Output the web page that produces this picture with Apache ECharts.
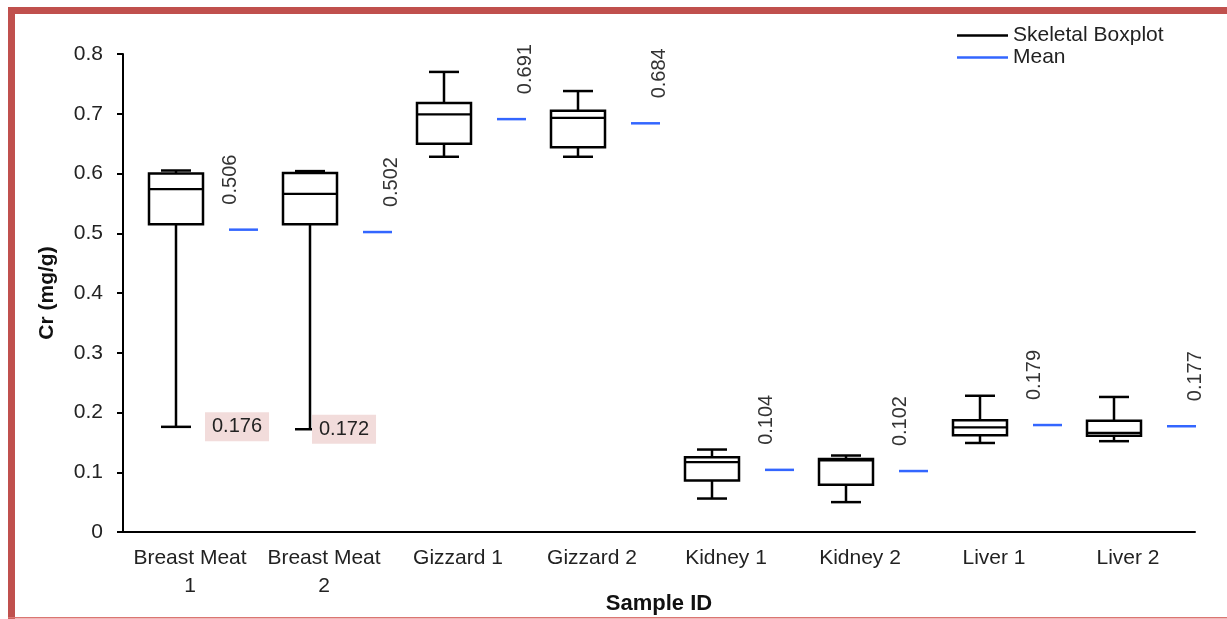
<!DOCTYPE html>
<html>
<head>
<meta charset="utf-8">
<script src="https://cdn.jsdelivr.net/npm/echarts@6/dist/echarts.min.js"></script>
<style>
  html, body { margin: 0; padding: 0; background: #fff; }
  #chart { width: 1227px; height: 619px; }
</style>
</head>
<body>
<div id="chart"></div>
<script>
// Cr content (mg/g) per sample: five-number summaries and means
const categories = ['Breast Meat 1', 'Breast Meat 2', 'Gizzard 1', 'Gizzard 2',
                    'Kidney 1', 'Kidney 2', 'Liver 1', 'Liver 2'];
const minValues    = [0.176, 0.172, 0.628, 0.628, 0.056, 0.050, 0.149, 0.152];
const q1Values     = [0.515, 0.515, 0.650, 0.644, 0.086, 0.079, 0.162, 0.161];
const medianValues = [0.574, 0.566, 0.699, 0.693, 0.117, 0.120, 0.175, 0.166];
const q3Values     = [0.600, 0.601, 0.718, 0.705, 0.125, 0.122, 0.187, 0.186];
const maxValues    = [0.605, 0.604, 0.770, 0.738, 0.138, 0.128, 0.228, 0.226];
const meanValues   = [0.506, 0.502, 0.691, 0.684, 0.104, 0.102, 0.179, 0.177];
const yTicks       = [0, 0.1, 0.2, 0.3, 0.4, 0.5, 0.6, 0.7, 0.8];
// samples whose minimum is annotated
const labelledMinIdx = [0, 1];

// layout (pixels relative to category centre)
const BOX_SHIFT = -14, BOX_HALF = 27, CAP_HALF = 15;
const MEAN_FROM = 39, MEAN_TO = 68;
const meanLabelSide = [-1, 1, 1, 1, -1, -1, -1, 1];
const minLabelShift = [15, -12];

const FONT = '"Liberation Sans", Arial, sans-serif';
const BLUE = '#3366ff';
const FRAME = '#c0504d';

const boxData = categories.map((c, i) =>
  [i, minValues[i], q1Values[i], medianValues[i], q3Values[i], maxValues[i]]);
const meanData = categories.map((c, i) => [i, meanValues[i]]);
const minLabelData = labelledMinIdx.map(i => [i, minValues[i]]);

const chart = echarts.init(document.getElementById('chart'), null, { renderer: 'canvas' });

function line(x1, y1, x2, y2, color, w) {
  return { type: 'line', shape: { x1, y1, x2, y2 }, style: { stroke: color, lineWidth: w } };
}

chart.setOption({
  animation: false,
  backgroundColor: '#fff',
  textStyle: { fontFamily: FONT },
  grid: { left: 123, right: 32, top: 54, bottom: 87, containLabel: false, outerBoundsMode: 'none' },
  legend: {
    orient: 'vertical',
    left: 952, top: 20,
    itemGap: 1,
    itemWidth: 51, itemHeight: 2.5,
    icon: 'rect',
    selectedMode: false,
    textStyle: { fontSize: 21, color: '#222', fontFamily: FONT },
    data: [
      { name: 'Skeletal Boxplot', itemStyle: { color: '#000' } },
      { name: 'Mean', itemStyle: { color: BLUE } }
    ]
  },
  xAxis: {
    type: 'category',
    data: categories,
    name: 'Sample ID',
    nameLocation: 'middle',
    nameGap: 72,
    nameMoveOverlap: false,
    nameTextStyle: {
      fontSize: 22, fontWeight: 'bold', color: '#111', fontFamily: FONT,
      verticalAlign: 'middle'
    },
    axisLine: { lineStyle: { color: '#000', width: 2 } },
    axisTick: { length: 6, lineStyle: { color: '#000', width: 2 } },
    axisLabel: {
      interval: 0,
      fontSize: 21, color: '#222', margin: 12, lineHeight: 28, fontFamily: FONT,
      formatter: v => v.replace(/^Breast Meat /, 'Breast Meat\n')
    },
    splitLine: { show: false }
  },
  yAxis: {
    type: 'value',
    min: yTicks[0], max: yTicks[yTicks.length - 1], interval: 0.1,
    name: 'Cr (mg/g)',
    nameLocation: 'middle',
    nameGap: 65,
    nameMoveOverlap: false,
    nameTextStyle: { fontSize: 21, fontWeight: 'bold', color: '#111', fontFamily: FONT },
    axisLine: { show: true, lineStyle: { color: '#000', width: 2 } },
    axisTick: { show: true, length: 6, lineStyle: { color: '#000', width: 2 } },
    axisLabel: {
      fontSize: 21, color: '#222', margin: 20, fontFamily: FONT,
      formatter: v => (v === 0 ? '0' : v.toFixed(1))
    },
    splitLine: { show: false }
  },
  graphic: [
    { type: 'rect', shape: { x: 8, y: 7, width: 7, height: 612 }, style: { fill: FRAME }, z: 100 },
    { type: 'rect', shape: { x: 8, y: 7, width: 1219, height: 7 }, style: { fill: FRAME }, z: 100 },
    { type: 'rect', shape: { x: 8, y: 617, width: 1219, height: 1.5 }, style: { fill: '#dc7572' }, z: 100 }
  ],
  series: [
    {
      name: 'Skeletal Boxplot',
      type: 'custom',
      itemStyle: { color: '#000' },
      data: boxData,
      encode: { x: 0, y: [1, 2, 3, 4, 5] },
      z: 2,
      renderItem: function (params, api) {
        const idx = api.value(0);
        const c = api.coord([idx, 0])[0] + BOX_SHIFT;
        const y = k => api.coord([idx, api.value(k)])[1];
        const yMin = y(1), yQ1 = y(2), yMed = y(3), yQ3 = y(4), yMax = y(5);
        return {
          type: 'group',
          children: [
            line(c, yMax, c, yQ3, '#000', 2.5),
            line(c, yQ1, c, yMin, '#000', 2.5),
            line(c - CAP_HALF, yMax, c + CAP_HALF, yMax, '#000', 2.5),
            line(c - CAP_HALF, yMin, c + CAP_HALF, yMin, '#000', 2.5),
            {
              type: 'rect',
              shape: { x: c - BOX_HALF, y: yQ3, width: BOX_HALF * 2, height: yQ1 - yQ3 },
              style: { fill: '#fff', stroke: '#000', lineWidth: 2.5 }
            },
            line(c - BOX_HALF, yMed, c + BOX_HALF, yMed, '#000', 2.2)
          ]
        };
      }
    },
    {
      name: 'Mean',
      type: 'custom',
      itemStyle: { color: BLUE },
      data: meanData,
      encode: { x: 0, y: 1 },
      z: 3,
      renderItem: function (params, api) {
        const idx = api.value(0);
        const v = api.value(1);
        const p = api.coord([idx, v]);
        const x1 = p[0] + MEAN_FROM, x2 = p[0] + MEAN_TO;
        const mid = (x1 + x2) / 2;
        return {
          type: 'group',
          children: [
            line(x1, p[1], x2, p[1], BLUE, 2.5),
            {
              type: 'text',
              x: mid + meanLabelSide[idx] * 13.5,
              y: p[1] - 25,
              rotation: Math.PI / 2,
              style: {
                text: v.toFixed(3),
                fill: '#333',
                font: '20px ' + FONT,
                align: 'left',
                verticalAlign: 'middle'
              }
            }
          ]
        };
      }
    },
    {
      name: 'Minimum label',
      type: 'custom',
      data: minLabelData,
      encode: { x: 0, y: 1 },
      z: 4,
      renderItem: function (params, api) {
        const idx = api.value(0);
        const v = api.value(1);
        const p = api.coord([idx, v]);
        return {
          type: 'text',
          x: p[0] + minLabelShift[params.dataIndex],
          y: p[1],
          style: {
            text: v.toFixed(3),
            fill: '#222',
            font: '20px ' + FONT,
            align: 'left',
            verticalAlign: 'middle',
            backgroundColor: '#f2dcdb',
            padding: [5, 7, 4, 7]
          }
        };
      }
    }
  ]
});
</script>
</body>
</html>
